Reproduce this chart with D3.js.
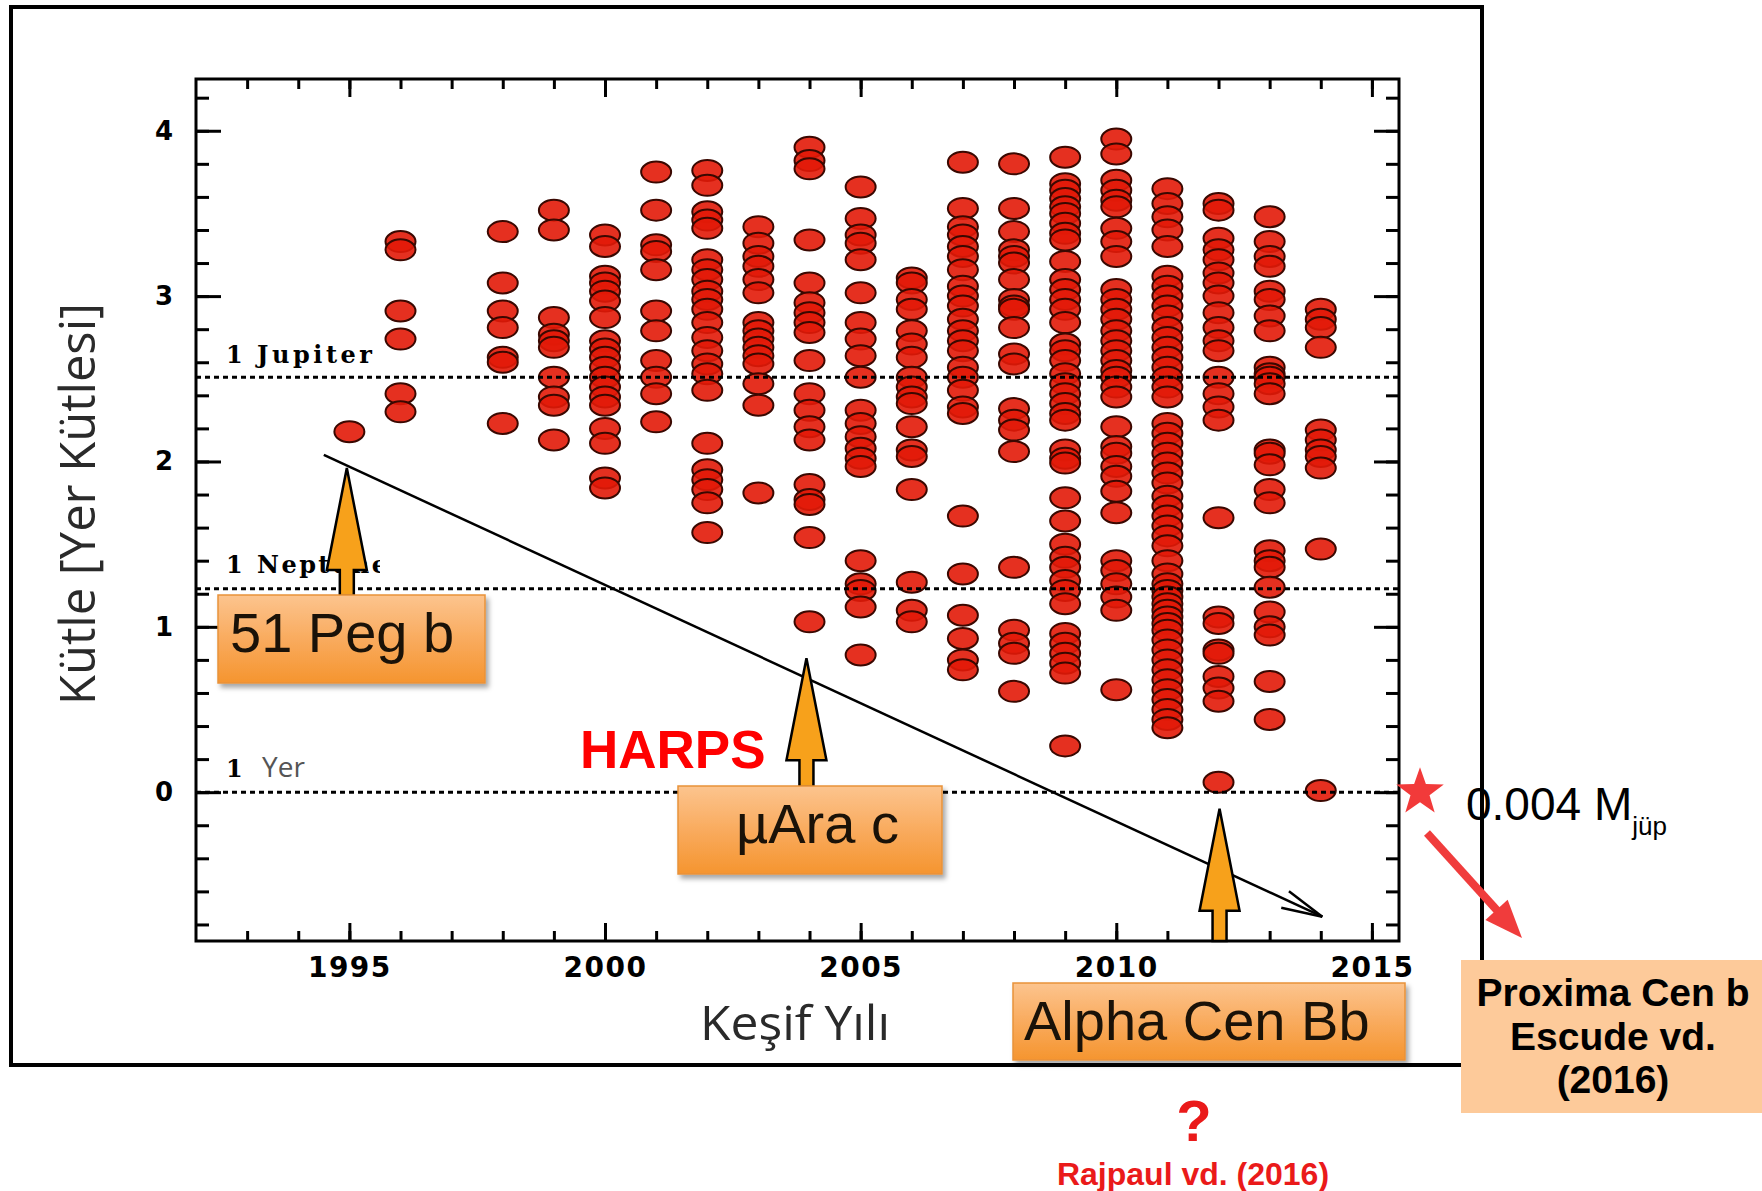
<!DOCTYPE html>
<html>
<head>
<meta charset="utf-8">
<script src="https://cdn.jsdelivr.net/npm/d3@7"></script>
<style>
  html, body { margin: 0; padding: 0; background: #fff; }
  svg { display: block; }
</style>
</head>
<body>
<div id="chart"></div>
<script>
// masses per discovery year (log Earth masses)
const m1995 = [2.18];
const m1996 = [3.33, 3.28, 2.91, 2.74, 2.41, 2.30];
const m1997 = [];
const m1998 = [3.39, 3.08, 2.91, 2.81, 2.63, 2.60, 2.23];
const m1999 = [3.52, 3.40, 2.87, 2.77, 2.73, 2.69, 2.51, 2.39, 2.34, 2.13];
const m2000 = [3.37, 3.30, 3.12, 3.08, 3.03, 2.97, 2.87, 2.73, 2.68, 2.63, 2.57, 2.51, 2.45, 2.39, 2.34, 2.20, 2.11, 1.90, 1.84];
const m2001 = [3.75, 3.52, 3.31, 3.27, 3.16, 2.91, 2.79, 2.61, 2.51, 2.41, 2.24];
const m2002 = [3.76, 3.67, 3.51, 3.46, 3.41, 3.22, 3.16, 3.10, 3.03, 2.98, 2.92, 2.84, 2.75, 2.67, 2.59, 2.53, 2.43, 2.11, 1.95, 1.89, 1.83, 1.75, 1.57];
const m2003 = [3.42, 3.32, 3.24, 3.18, 3.10, 3.02, 2.84, 2.79, 2.74, 2.69, 2.64, 2.59, 2.47, 2.34, 1.81];
const m2004 = [3.90, 3.82, 3.77, 3.34, 3.08, 2.96, 2.90, 2.84, 2.78, 2.61, 2.41, 2.31, 2.21, 2.13, 1.86, 1.77, 1.74, 1.54, 1.03];
const m2005 = [3.66, 3.47, 3.37, 3.32, 3.22, 3.02, 2.84, 2.74, 2.64, 2.51, 2.31, 2.23, 2.15, 2.08, 2.02, 1.97, 1.40, 1.26, 1.22, 1.12, 0.83];
const m2006 = [3.11, 3.08, 2.98, 2.92, 2.79, 2.71, 2.63, 2.51, 2.45, 2.39, 2.35, 2.21, 2.07, 2.03, 1.83, 1.27, 1.10, 1.03];
const m2007 = [3.81, 3.53, 3.42, 3.37, 3.30, 3.24, 3.16, 3.06, 3.00, 2.94, 2.86, 2.79, 2.73, 2.67, 2.57, 2.51, 2.43, 2.33, 2.29, 1.67, 1.32, 1.07, 0.93, 0.80, 0.74];
const m2008 = [3.80, 3.53, 3.39, 3.28, 3.24, 3.20, 3.10, 2.98, 2.94, 2.92, 2.81, 2.65, 2.59, 2.32, 2.25, 2.19, 2.06, 1.36, 0.98, 0.90, 0.84, 0.61];
const m2009 = [3.84, 3.68, 3.64, 3.59, 3.54, 3.50, 3.44, 3.38, 3.34, 3.21, 3.10, 3.04, 2.98, 2.92, 2.84, 2.71, 2.67, 2.61, 2.53, 2.47, 2.41, 2.35, 2.29, 2.25, 2.07, 2.02, 1.99, 1.78, 1.64, 1.50, 1.42, 1.36, 1.28, 1.22, 1.14, 0.96, 0.90, 0.84, 0.78, 0.72, 0.28];
const m2010 = [3.95, 3.86, 3.70, 3.64, 3.58, 3.54, 3.41, 3.33, 3.24, 3.04, 2.98, 2.92, 2.86, 2.79, 2.73, 2.67, 2.61, 2.55, 2.51, 2.45, 2.39, 2.21, 2.09, 2.05, 1.97, 1.91, 1.82, 1.69, 1.40, 1.34, 1.26, 1.18, 1.10, 0.62];
const m2011 = [3.65, 3.56, 3.48, 3.40, 3.30, 3.12, 3.06, 3.00, 2.94, 2.88, 2.81, 2.75, 2.69, 2.63, 2.57, 2.51, 2.45, 2.39, 2.23, 2.17, 2.11, 2.05, 1.99, 1.93, 1.87, 1.79, 1.73, 1.67, 1.61, 1.55, 1.49, 1.40, 1.32, 1.26, 1.22, 1.18, 1.14, 1.10, 1.06, 1.02, 0.98, 0.92, 0.86, 0.80, 0.74, 0.68, 0.62, 0.56, 0.50, 0.44, 0.39];
const m2012 = [3.56, 3.52, 3.35, 3.28, 3.22, 3.14, 3.08, 3.00, 2.90, 2.81, 2.73, 2.67, 2.51, 2.41, 2.33, 2.25, 1.66, 1.06, 1.02, 0.86, 0.84, 0.70, 0.63, 0.55, 0.06];
const m2013 = [3.48, 3.33, 3.24, 3.18, 3.03, 2.98, 2.88, 2.79, 2.57, 2.53, 2.51, 2.47, 2.41, 2.07, 2.05, 1.98, 1.83, 1.75, 1.46, 1.40, 1.36, 1.24, 1.09, 1.00, 0.95, 0.67, 0.44];
const m2014 = [2.92, 2.86, 2.81, 2.69, 2.19, 2.13, 2.07, 2.03, 1.96, 1.47, 0.01];

const years = [1995, 1996, 1997, 1998, 1999, 2000, 2001, 2002, 2003, 2004,
               2005, 2006, 2007, 2008, 2009, 2010, 2011, 2012, 2013, 2014];
const masses = [m1995, m1996, m1997, m1998, m1999, m2000, m2001, m2002, m2003, m2004,
                m2005, m2006, m2007, m2008, m2009, m2010, m2011, m2012, m2013, m2014];

const xTicks = [1995, 2000, 2005, 2010, 2015];
const yTicks = [0, 1, 2, 3, 4];
const refNames = ['Jupiter', 'Neptune', 'Yer'];
const refValues = [2.51, 1.23, 0];

// annotation anchors in data units
const pegTip = [1994.95, 1.96];
const araTip = [2003.94, 0.81];
const alphaTip = [2012.02, -0.10];
const trendStart = [1994.50, 2.04];
const trendEnd = [2014.03, -0.753];

const width = 1762;
const height = 1191;
const plot = { left: 196, right: 1399, top: 79, bottom: 941 };

const svg = d3.select('#chart')
    .append('svg')
    .attr('width', width)
    .attr('height', height)
    .style('background', '#fff');

const defs = svg.append('defs');
const grad = defs.append('linearGradient')
    .attr('id', 'boxGrad')
    .attr('x1', 0).attr('y1', 0).attr('x2', 0).attr('y2', 1);
grad.append('stop').attr('offset', '0%').attr('stop-color', '#fcc48e');
grad.append('stop').attr('offset', '50%').attr('stop-color', '#f9ab5e');
grad.append('stop').attr('offset', '100%').attr('stop-color', '#f5952f');

const shadow = defs.append('filter').attr('id', 'shadow')
    .attr('x', '-10%').attr('y', '-10%').attr('width', '130%').attr('height', '140%');
shadow.append('feDropShadow')
    .attr('dx', 3).attr('dy', 4).attr('stdDeviation', 2.5)
    .attr('flood-color', '#000').attr('flood-opacity', 0.35);

defs.append('clipPath').attr('id', 'nepClip')
    .append('rect').attr('x', 200).attr('y', 540).attr('width', 180).attr('height', 45);

const x = d3.scaleLinear()
    .domain([1992, 2015.53])
    .range([plot.left, plot.right]);

const y = d3.scaleLinear()
    .domain([-0.9, 4.313])
    .range([plot.bottom, plot.top]);

// outer frame
svg.append('rect')
    .attr('x', 11).attr('y', 7)
    .attr('width', 1471).attr('height', 1058)
    .attr('fill', 'none')
    .attr('stroke', '#000')
    .attr('stroke-width', 4);

// points
const points = [];
years.forEach((yr, i) => masses[i].forEach(m => points.push({ year: yr, mass: m })));

svg.append('g')
    .selectAll('ellipse')
    .data(points)
    .join('ellipse')
        .attr('cx', d => x(d.year))
        .attr('cy', d => y(d.mass))
        .attr('rx', 15)
        .attr('ry', 10.5)
        .attr('fill', '#e21a08')
        .attr('fill-opacity', 0.9)
        .attr('stroke', '#3a0801')
        .attr('stroke-width', 2);

// reference lines
svg.append('g')
    .selectAll('line')
    .data(refValues)
    .join('line')
        .attr('x1', plot.left)
        .attr('x2', plot.right)
        .attr('y1', d => y(d))
        .attr('y2', d => y(d))
        .attr('stroke', '#000')
        .attr('stroke-width', 3)
        .attr('stroke-dasharray', '5,4');

// axes
const xMinor = d3.range(1993, 2016);
const yMinor = d3.range(-0.8, 4.3, 0.2);

function styleAxis(g) {
    g.select('.domain').remove();
    g.selectAll('.tick line').attr('stroke', '#000').attr('stroke-width', 3);
}

svg.append('g')
    .attr('transform', `translate(0,${plot.bottom})`)
    .call(d3.axisBottom(x).tickValues(xMinor).tickSize(-10).tickFormat(''))
    .call(styleAxis);
svg.append('g')
    .attr('transform', `translate(0,${plot.bottom})`)
    .call(d3.axisBottom(x).tickValues(xTicks).tickSize(-18).tickPadding(16).tickFormat(d3.format('d')))
    .call(styleAxis)
    .call(g => g.selectAll('text')
        .attr('font-family', 'DejaVu Sans')
        .attr('font-weight', 'bold')
        .attr('font-size', 28)
        .attr('letter-spacing', 1.5)
        .attr('fill', '#000'));
svg.append('g')
    .attr('transform', `translate(0,${plot.top})`)
    .call(d3.axisTop(x).tickValues(xMinor).tickSize(-10).tickFormat(''))
    .call(styleAxis);
svg.append('g')
    .attr('transform', `translate(0,${plot.top})`)
    .call(d3.axisTop(x).tickValues(xTicks).tickSize(-18).tickFormat(''))
    .call(styleAxis);

svg.append('g')
    .attr('transform', `translate(${plot.left},0)`)
    .call(d3.axisLeft(y).tickValues(yMinor).tickSize(-13).tickFormat(''))
    .call(styleAxis);
svg.append('g')
    .attr('transform', `translate(${plot.left},0)`)
    .call(d3.axisLeft(y).tickValues(yTicks).tickSize(-25).tickPadding(23).tickFormat(d3.format('d')))
    .call(styleAxis)
    .call(g => g.selectAll('text')
        .attr('font-family', 'DejaVu Sans')
        .attr('font-weight', 'bold')
        .attr('font-size', 26)
        .attr('fill', '#000'));
svg.append('g')
    .attr('transform', `translate(${plot.right},0)`)
    .call(d3.axisRight(y).tickValues(yMinor).tickSize(-13).tickFormat(''))
    .call(styleAxis);
svg.append('g')
    .attr('transform', `translate(${plot.right},0)`)
    .call(d3.axisRight(y).tickValues(yTicks).tickSize(-25).tickFormat(''))
    .call(styleAxis);

// plot frame
svg.append('rect')
    .attr('x', plot.left).attr('y', plot.top)
    .attr('width', plot.right - plot.left)
    .attr('height', plot.bottom - plot.top)
    .attr('fill', 'none')
    .attr('stroke', '#000')
    .attr('stroke-width', 3);

// reference labels
const serif = { family: 'DejaVu Serif', size: 24 };
const jupY = y(refValues[0]) - 14;
const nepY = y(refValues[1]) - 16;
const yerY = y(refValues[2]) - 15;

[jupY, nepY, yerY].forEach(yy => {
    svg.append('text')
        .attr('x', 226).attr('y', yy)
        .attr('font-family', serif.family)
        .attr('font-weight', 'bold')
        .attr('font-size', serif.size)
        .text('1');
});
svg.append('text')
    .attr('x', 257).attr('y', jupY)
    .attr('font-family', serif.family)
    .attr('font-weight', 'bold')
    .attr('font-size', serif.size)
    .attr('textLength', 115)
    .attr('lengthAdjust', 'spacing')
    .text(refNames[0]);
svg.append('text')
    .attr('x', 257).attr('y', nepY)
    .attr('clip-path', 'url(#nepClip)')
    .attr('font-family', serif.family)
    .attr('font-weight', 'bold')
    .attr('font-size', serif.size)
    .attr('textLength', 130)
    .attr('lengthAdjust', 'spacing')
    .text(refNames[1]);
svg.append('text')
    .attr('x', 262).attr('y', yerY)
    .attr('font-family', 'Open Sans')
    .attr('font-size', 28)
    .attr('fill', '#555')
    .text(refNames[2]);

// axis titles
svg.append('text')
    .attr('transform', 'translate(95,705) rotate(-90)')
    .attr('font-family', 'Open Sans')
    .attr('font-size', 50)
    .attr('fill', '#2a2a2a')
    .attr('textLength', 402)
    .attr('lengthAdjust', 'spacingAndGlyphs')
    .text('Kütle [Yer Kütlesi]');
svg.append('text')
    .attr('x', 700).attr('y', 1040)
    .attr('font-family', 'Open Sans')
    .attr('font-size', 48)
    .attr('fill', '#2a2a2a')
    .attr('textLength', 190)
    .attr('lengthAdjust', 'spacingAndGlyphs')
    .text('Keşif Yılı');

// trend arrow
const [sx, sy] = [x(trendStart[0]), y(trendStart[1])];
const [ex, ey] = [x(trendEnd[0]), y(trendEnd[1])];
svg.append('line')
    .attr('x1', sx).attr('y1', sy).attr('x2', ex).attr('y2', ey)
    .attr('stroke', '#000').attr('stroke-width', 2.5);
const ang = Math.atan2(sy - ey, sx - ex);
[-0.22, 0.22].forEach(a => {
    svg.append('line')
        .attr('x1', ex).attr('y1', ey)
        .attr('x2', ex + 42 * Math.cos(ang + a))
        .attr('y2', ey + 42 * Math.sin(ang + a))
        .attr('stroke', '#000').attr('stroke-width', 2.5);
});

// orange arrows
function upArrow(tip, baseY) {
    const tx = x(tip[0]), ty = y(tip[1]);
    const headY = ty + 102;
    const pts = [
        [tx, ty], [tx + 20, headY], [tx + 7, headY], [tx + 7, baseY],
        [tx - 7, baseY], [tx - 7, headY], [tx - 20, headY]
    ];
    svg.append('polygon')
        .attr('points', pts.map(p => p.join(',')).join(' '))
        .attr('fill', '#f7a11b')
        .attr('stroke', '#000')
        .attr('stroke-width', 2.5)
        .attr('stroke-linejoin', 'miter');
}
upArrow(pegTip, 596);
upArrow(araTip, 787);
upArrow(alphaTip, plot.bottom);

// orange boxes
function orangeBox(bx, by, bw, bh, label, tx, ty) {
    svg.append('rect')
        .attr('x', bx).attr('y', by).attr('width', bw).attr('height', bh)
        .attr('fill', 'url(#boxGrad)')
        .attr('stroke', '#e8923a')
        .attr('stroke-width', 1.5)
        .attr('filter', 'url(#shadow)');
    svg.append('text')
        .attr('x', tx).attr('y', ty)
        .attr('font-family', 'Liberation Sans')
        .attr('font-size', 56)
        .attr('fill', '#1a1208')
        .text(label);
}
orangeBox(218, 595, 267, 88, '51 Peg b', 230, 652);
orangeBox(678, 786, 264, 88, 'µAra c', 736, 843);
orangeBox(1013, 983, 392, 77, 'Alpha Cen Bb', 1024, 1040);

svg.append('text')
    .attr('x', 580).attr('y', 768)
    .attr('font-family', 'Liberation Sans')
    .attr('font-weight', 'bold')
    .attr('font-size', 53)
    .attr('fill', '#ff0000')
    .text('HARPS');

// Proxima Cen b
const starCx = 1420, starCy = y(0);
const starPts = d3.range(10).map(i => {
    const r = i % 2 === 0 ? 25 : 10;
    const a = -Math.PI / 2 + i * Math.PI / 5;
    return [starCx + r * Math.cos(a), starCy + r * Math.sin(a)];
});
svg.append('polygon')
    .attr('points', starPts.map(p => p.join(',')).join(' '))
    .attr('fill', '#f23a3a');

const val = svg.append('text')
    .attr('x', 1466).attr('y', 820)
    .attr('font-family', 'Liberation Sans')
    .attr('font-size', 46)
    .attr('fill', '#000');
val.append('tspan').text('0.004 M');
val.append('tspan').attr('font-size', 26).attr('dy', 15).text('jüp');

// red arrow
const ra0 = [1427, 833], raTip = [1522, 938];
const rdx = raTip[0] - ra0[0], rdy = raTip[1] - ra0[1];
const rlen = Math.hypot(rdx, rdy);
const ux = rdx / rlen, uy = rdy / rlen;
const hb = [raTip[0] - 38 * ux, raTip[1] - 38 * uy];
svg.append('line')
    .attr('x1', ra0[0]).attr('y1', ra0[1])
    .attr('x2', hb[0] + 4 * ux).attr('y2', hb[1] + 4 * uy)
    .attr('stroke', '#f03c3c').attr('stroke-width', 8);
svg.append('polygon')
    .attr('points', [
        raTip,
        [hb[0] - 15 * uy, hb[1] + 15 * ux],
        [hb[0] + 15 * uy, hb[1] - 15 * ux]
    ].map(p => p.join(',')).join(' '))
    .attr('fill', '#f03c3c');

svg.append('rect')
    .attr('x', 1461).attr('y', 960)
    .attr('width', 301).attr('height', 153)
    .attr('fill', '#fdca9a');
const prox = svg.append('text')
    .attr('font-family', 'Liberation Sans')
    .attr('font-weight', 'bold')
    .attr('font-size', 39)
    .attr('text-anchor', 'middle')
    .attr('fill', '#000');
[['Proxima Cen b', 1006], ['Escude vd.', 1050], ['(2016)', 1093]].forEach(([t, yy]) => {
    prox.append('tspan').attr('x', 1613).attr('y', yy).text(t);
});

// Alpha Cen Bb doubt
svg.append('text')
    .attr('x', 1194).attr('y', 1141)
    .attr('text-anchor', 'middle')
    .attr('font-family', 'Liberation Sans')
    .attr('font-weight', 'bold')
    .attr('font-size', 58)
    .attr('fill', '#ea1a1a')
    .text('?');
svg.append('text')
    .attr('x', 1193).attr('y', 1185)
    .attr('text-anchor', 'middle')
    .attr('font-family', 'Liberation Sans')
    .attr('font-weight', 'bold')
    .attr('font-size', 32)
    .attr('fill', '#ea1a1a')
    .text('Rajpaul vd. (2016)');
</script>
</body>
</html>
